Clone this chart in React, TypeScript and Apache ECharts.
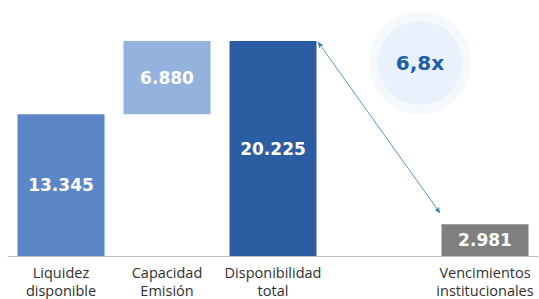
import React, { useEffect, useRef } from "react";
import * as echarts from "echarts";

const categories = ["Liquidez\ndisponible", "Capacidad\nEmisión", "Disponibilidad\ntotal", "", "Vencimientos\ninstitucionales"];
const baseValues: (number | string)[] = [0, 13345, 0, "-", 0];
const values: (number | string)[] = [13345, 6880, 20225, "-", 2981];
const valueLabels = ["13.345", "6.880", "20.225", "", "2.981"];
const barColors = ["#5b87c9", "#93b2de", "#2a5da2", "#ffffff", "#7f7f7f"];
const ratioText = "6,8x";

export default function App() {
  const ref = useRef<HTMLDivElement>(null);
  useEffect(() => {
    if (!ref.current) return;
    const chart = echarts.init(ref.current, undefined, { renderer: "svg" });
    chart.setOption({
      animation: false,
      grid: { left: 8, right: 1, top: 41, bottom: 39 },
      xAxis: {
        type: "category",
        data: categories,
        axisLine: { show: true, lineStyle: { color: "#bfbfbf", width: 1 } },
        axisTick: { show: false },
        axisLabel: {
          interval: 0,
          margin: 7,
          color: "#2f2f2f",
          fontFamily: "Open Sans",
          fontSize: 14.5,
          lineHeight: 18,
        },
      },
      yAxis: { type: "value", min: 0, max: 20225, show: false, splitLine: { show: false } },
      series: [
        {
          type: "bar",
          stack: "s",
          barWidth: 87,
          data: baseValues,
          itemStyle: { color: "transparent" },
          silent: true,
        },
        {
          type: "bar",
          stack: "s",
          barWidth: 87,
          data: values.map((v, i) => ({ value: v, itemStyle: { color: barColors[i] } })),
          label: {
            show: true,
            position: "inside",
            color: "#ffffff",
            fontFamily: "DejaVu Sans",
            fontWeight: "bold",
            fontSize: 17,
            formatter: (p: any) => valueLabels[p.dataIndex],
          },
          markLine: {
            silent: true,
            symbol: ["arrow", "arrow"],
            symbolSize: [4, 6],
            label: { show: false },
            lineStyle: { color: "#2f78a8", width: 0.8, type: "solid" },
            data: [[{ x: 318, y: 42 }, { x: 440, y: 213 }]],
          },
        },
      ],
      graphic: [
        { type: "circle", shape: { cx: 420, cy: 63, r: 51 }, style: { fill: "#f5f9fe" }, z: 1 },
        { type: "circle", shape: { cx: 420, cy: 63, r: 42 }, style: { fill: "#e9f2fc" }, z: 2 },
        {
          type: "text",
          x: 420,
          y: 63,
          z: 3,
          style: {
            text: ratioText,
            fill: "#1c5ea9",
            font: "bold 20px 'DejaVu Sans'",
            align: "center",
            verticalAlign: "middle",
          },
        },
      ],
    });
    return () => chart.dispose();
  }, []);
  return <div ref={ref} style={{ width: 539, height: 299, position: "absolute", left: 0, top: 0 }} />;
}
